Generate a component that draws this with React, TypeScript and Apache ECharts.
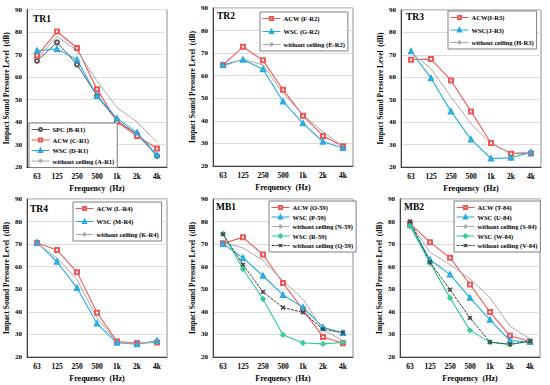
import React, { useEffect, useRef } from "react";
import * as echarts from "echarts";

const FONT = '"Liberation Serif", "Times New Roman", serif';

const frequencies = ["63", "125", "250", "500", "1k", "2k", "4k"];
const yTicks = { min: 20, max: 90, interval: 10 };

// TR1
const tr1Spc = [67.2, 75.4, 65.5, 51.6, 40.5, 34.6, 24.9];
const tr1Acw = [69.5, 80.2, 72.9, 54.6, 40.1, 33.8, 28.2];
const tr1Wsc = [71.7, 72.5, 67.7, 51.6, 41.6, 35.3, 25.3];
const tr1Without = [68.0, 78.1, 71.7, 58.3, 46.4, 40.0, 31.0];
// TR2
const tr2Acw = [64.8, 72.8, 66.8, 53.8, 42.3, 33.3, 28.8];
const tr2Wsc = [64.8, 67.1, 62.9, 48.6, 38.9, 30.7, 28.0];
const tr2Without = [64.2, 67.3, 64.8, 52.3, 42.6, 35.2, 28.6];
// TR3
const tr3Acw = [67.8, 68.1, 58.6, 44.8, 30.7, 25.9, 26.0];
const tr3Wsc = [71.6, 59.6, 44.8, 32.3, 23.8, 24.1, 26.6];
const tr3Without = [71.2, 63.8, 51.3, 39.3, 30.4, 26.2, 26.6];
// TR4
const tr4Acw = [70.5, 67.4, 57.6, 39.6, 26.9, 26.2, 26.4];
const tr4Wsc = [70.8, 62.2, 50.6, 34.8, 26.3, 25.7, 27.2];
const tr4Without = [70.3, 63.9, 54.3, 37.3, 26.5, 25.9, 26.7];
// MB1
const mb1Acw = [70.4, 73.0, 65.4, 52.8, 41.0, 28.9, 26.1];
const mb1WscP = [70.1, 63.9, 56.0, 47.5, 42.0, 33.2, 30.6];
const mb1WithoutN = [70.8, 68.3, 62.8, 53.8, 45.6, 32.0, 27.2];
const mb1WscR = [74.6, 59.0, 45.7, 29.8, 26.2, 25.8, 26.4];
const mb1WithoutQ = [74.4, 60.9, 48.8, 41.9, 39.8, 32.3, 30.8];
// MB2
const mb2Acw = [79.1, 70.8, 64.0, 52.1, 39.9, 29.4, 26.9];
const mb2WscU = [78.6, 63.1, 56.6, 46.2, 36.5, 27.3, 26.6];
const mb2WithoutS = [79.4, 66.4, 60.9, 54.6, 46.3, 33.6, 28.1];
const mb2WscW = [77.9, 61.7, 46.2, 31.8, 26.6, 25.6, 27.0];
const mb2WithoutV = [80.1, 62.0, 49.8, 37.3, 26.6, 25.6, 27.0];

const RED = "#f05858";
const BLUE = "#25a9e0";
const GREEN = "#35cc92";
const DARK = "#5a5a5a";
const LIGHT = "#aaaaaa";
const XDARK = "#404040";
const X_SYMBOL =
  "path://M0,1.5L1.5,0L5,3.5L8.5,0L10,1.5L6.5,5L10,8.5L8.5,10L5,6.5L1.5,10L0,8.5L3.5,5Z";

type S = { name: string; data: number[]; kind: string };

const panels = [
  {
    title: "TR1",
    grid: { left: 27, top: 9.5, width: 140, height: 157.5 },
    titlePos: { left: 33, top: 14 },
    legend: { left: 29, top: 123, gap: 1.5 },
    series: [
      { name: "SPC (B-R1)", data: tr1Spc, kind: "spc" },
      { name: "ACW (C-R1)", data: tr1Acw, kind: "acw" },
      { name: "WSC (D-R1)", data: tr1Wsc, kind: "wsc" },
      { name: "without ceiling (A-R1)", data: tr1Without, kind: "without" },
    ] as S[],
  },
  {
    title: "TR2",
    grid: { left: 213, top: 8, width: 140, height: 158 },
    titlePos: { left: 217, top: 11 },
    legend: { left: 260, top: 12, gap: 4 },
    series: [
      { name: "ACW (F-R2)", data: tr2Acw, kind: "acw" },
      { name: "WSC (G-R2)", data: tr2Wsc, kind: "wsc" },
      { name: "without ceiling (E-R2)", data: tr2Without, kind: "without" },
    ] as S[],
  },
  {
    title: "TR3",
    grid: { left: 401, top: 10, width: 140, height: 157 },
    titlePos: { left: 406, top: 12 },
    legend: { left: 448, top: 11, gap: 3.5 },
    series: [
      { name: "ACW(I-R3)", data: tr3Acw, kind: "acw" },
      { name: "WSC(J-R3)", data: tr3Wsc, kind: "wsc" },
      { name: "without ceiling (H-R3)", data: tr3Without, kind: "without" },
    ] as S[],
  },
  {
    title: "TR4",
    grid: { left: 27, top: 199, width: 140, height: 158 },
    titlePos: { left: 30, top: 204 },
    legend: { left: 73, top: 202, gap: 4 },
    series: [
      { name: "ACW (L-R4)", data: tr4Acw, kind: "acw" },
      { name: "WSC (M-R4)", data: tr4Wsc, kind: "wsc" },
      { name: "without ceiling (K-R4)", data: tr4Without, kind: "without" },
    ] as S[],
  },
  {
    title: "MB1",
    grid: { left: 213, top: 199, width: 140, height: 158 },
    titlePos: { left: 216, top: 202 },
    legend: { left: 269, top: 201, gap: 0.5 },
    series: [
      { name: "ACW (O-59)", data: mb1Acw, kind: "acw" },
      { name: "WSC (P-59)", data: mb1WscP, kind: "wsc" },
      { name: "without ceiling (N-59)", data: mb1WithoutN, kind: "without" },
      { name: "WSC (R-59)", data: mb1WscR, kind: "green" },
      { name: "without ceiling (Q-59)", data: mb1WithoutQ, kind: "xmark" },
    ] as S[],
  },
  {
    title: "MB2",
    grid: { left: 400, top: 199, width: 140, height: 158 },
    titlePos: { left: 404, top: 202 },
    legend: { left: 454, top: 201, gap: 0.5 },
    series: [
      { name: "ACW (T-84)", data: mb2Acw, kind: "acw" },
      { name: "WSC (U-84)", data: mb2WscU, kind: "wsc" },
      { name: "without ceiling (S-84)", data: mb2WithoutS, kind: "without" },
      { name: "WSC (W-84)", data: mb2WscW, kind: "green" },
      { name: "without ceiling (V-84)", data: mb2WithoutV, kind: "xmark" },
    ] as S[],
  },
];

function styleFor(kind: string) {
  switch (kind) {
    case "spc":
      return { color: DARK, symbol: "emptyCircle", symbolSize: 4, lineStyle: { color: DARK, width: 1 } };
    case "acw":
      return { color: RED, symbol: "emptyRect", symbolSize: 4, lineStyle: { color: RED, width: 1.1 } };
    case "wsc":
      return { color: BLUE, symbol: "emptyTriangle", symbolSize: 4, lineStyle: { color: BLUE, width: 1.1 } };
    case "green":
      return { color: GREEN, symbol: "emptyDiamond", symbolSize: 3.5, lineStyle: { color: GREEN, width: 1.1 } };
    case "xmark":
      return { color: XDARK, symbol: X_SYMBOL, symbolSize: 4, lineStyle: { color: XDARK, width: 1, type: [3, 1] } };
    default:
      return { color: LIGHT, symbol: "none", symbolSize: 0, lineStyle: { color: LIGHT, width: 1 } };
  }
}

export default function App() {
  const ref = useRef<HTMLDivElement>(null);
  useEffect(() => {
    if (!ref.current) return;
    const chart = echarts.init(ref.current, null, { renderer: "svg" });
    const grids: any[] = [];
    const xAxes: any[] = [];
    const yAxes: any[] = [];
    const titles: any[] = [];
    const legends: any[] = [];
    const series: any[] = [];
    panels.forEach((p, i) => {
      grids.push({
        ...p.grid,
        show: true,
        borderColor: "#8c8c8c",
        borderWidth: 1,
        backgroundColor: "#fff",
        containLabel: false,
      });
      xAxes.push({
        type: "category",
        gridIndex: i,
        data: frequencies,
        boundaryGap: true,
        axisLine: { show: true, lineStyle: { color: "#404040", width: 1 } },
        axisTick: { show: false },
        axisLabel: { color: "#000", fontFamily: FONT, fontWeight: "bold", fontSize: 7.5, margin: 5 },
        name: "Frequency  (Hz)",
        nameLocation: "middle",
        nameGap: 17,
        nameTextStyle: { color: "#000", fontFamily: FONT, fontWeight: "bold", fontSize: 8 },
      });
      yAxes.push({
        type: "value",
        gridIndex: i,
        min: yTicks.min,
        max: yTicks.max,
        interval: yTicks.interval,
        axisLine: { show: true, lineStyle: { color: "#404040", width: 1 } },
        axisTick: { show: false },
        splitLine: { show: true, lineStyle: { color: "#dcdcdc", width: 1 } },
        axisLabel: { color: "#000", fontFamily: FONT, fontWeight: "bold", fontSize: 7, margin: 5 },
        name: "Impact Sound Pressure Level  (dB)",
        nameLocation: "middle",
        nameRotate: 90,
        nameGap: 17,
        nameTextStyle: { color: "#000", fontFamily: FONT, fontWeight: "bold", fontSize: 7.5 },
      });
      titles.push({
        text: p.title,
        left: p.titlePos.left,
        top: p.titlePos.top,
        padding: 0,
        textStyle: { color: "#000", fontFamily: FONT, fontWeight: "bold", fontSize: 9.5 },
      });
      legends.push({
        orient: "vertical",
        left: p.legend.left,
        top: p.legend.top,
        data: p.series.map((s) => s.name),
        selectedMode: false,
        itemWidth: 18,
        itemHeight: 4,
        itemGap: p.legend.gap + 2,
        padding: [3, 3, 3, 2],
        borderColor: "#7f7f7f",
        borderWidth: 1,
        backgroundColor: "#fff",
        itemStyle: { borderWidth: 1 },
        lineStyle: { width: 1 },
        textStyle: { color: "#000", fontFamily: FONT, fontWeight: "bold", fontSize: 6.5, padding: [0, 0, 0, -2] },
      });
      p.series.forEach((s) => {
        const st = styleFor(s.kind);
        series.push({
          type: "line",
          name: s.name,
          xAxisIndex: i,
          yAxisIndex: i,
          data: s.data,
          symbol: st.symbol,
          symbolSize: st.symbolSize,
          showSymbol: st.symbol !== "none",
          color: st.color,
          itemStyle: { color: st.color, borderColor: st.color, borderWidth: 0.9 },
          lineStyle: st.lineStyle,
          z: 3,
        });
      });
    });
    chart.setOption({
      animation: false,
      backgroundColor: "#fff",
      title: titles,
      legend: legends,
      grid: grids,
      xAxis: xAxes,
      yAxis: yAxes,
      series,
    });
    return () => chart.dispose();
  }, []);
  return (
    <div
      ref={ref}
      style={{ position: "absolute", left: 0, top: 0, width: 550, height: 385 }}
    />
  );
}
